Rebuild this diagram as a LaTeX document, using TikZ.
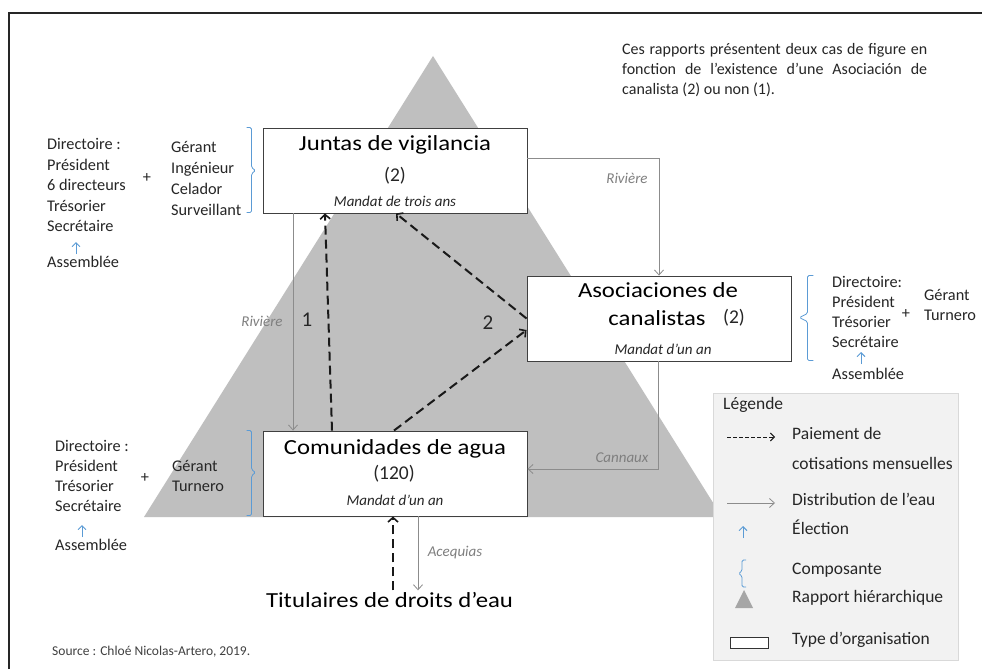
\documentclass[tikz,border=0pt]{standalone}
\usepackage{fontspec}
\setmainfont{Carlito}
\newfontfamily\titlefam[FakeStretch=1.15]{Carlito}
\usetikzlibrary{arrows.meta}
\definecolor{tri}{HTML}{BFBFBF}
\definecolor{legtri}{HTML}{A6A6A6}
\definecolor{bluebr}{HTML}{5B9BD5}
\definecolor{waterc}{HTML}{8C8C8C}
\definecolor{lab}{HTML}{7F7F7F}
\definecolor{legfill}{HTML}{F2F2F2}
\definecolor{legdraw}{HTML}{D9D9D9}
\definecolor{boxdraw}{HTML}{404040}
\definecolor{txt}{HTML}{262626}
\definecolor{srcc}{HTML}{404040}
\begin{document}
\begin{tikzpicture}[x=1pt,y=-1pt,
  orgbox/.style={draw=boxdraw, fill=white, line width=0.9pt, minimum width=264pt, minimum height=85pt, inner sep=0pt},
  orgtitle/.style={font=\titlefam\fontsize{21.5}{26}\selectfont, text=black, inner sep=0pt, text height=0.7em, text depth=0.2em},
  orgcount/.style={font=\fontsize{19.5}{22}\selectfont, text=txt, inner sep=0pt, text height=0.7em, text depth=0.2em},
  mandat/.style={font=\itshape\fontsize{15}{18}\selectfont, text=txt, inner sep=0pt, text height=0.7em, text depth=0.2em},
  sidetext/.style={font=\fontsize{16.3}{20.5}\selectfont, align=left, inner sep=0pt, text=txt, anchor=north west},
  sidetextb/.style={font=\fontsize{16.3}{20}\selectfont, align=left, inner sep=0pt, text=txt, anchor=north west},
  plussign/.style={font=\fontsize{16.3}{20}\selectfont, inner sep=0pt, text=txt},
  numlab/.style={font=\fontsize{21}{24}\selectfont, inner sep=0pt, text=txt, text height=0.7em, text depth=0.2em},
  flowlab/.style={font=\itshape\fontsize{15}{18}\selectfont, text=lab, inner sep=0pt, text height=0.7em, text depth=0.2em},
  water/.style={draw=waterc, line width=0.8pt, -{Straight Barb[length=5pt,width=9pt]}},
  pay/.style={draw=black!90, line width=2pt, dash pattern=on 9pt off 5pt, -{Straight Barb[length=4.5pt,width=10pt,line width=1.6pt]}},
  legpay/.style={draw=black!90, line width=0.9pt, dash pattern=on 3.5pt off 2.5pt, -{Straight Barb[length=4pt,width=8pt]}},
  elect/.style={draw=bluebr, line width=0.9pt, -{Straight Barb[length=4pt,width=8pt]}},
  bluebrace/.style={draw=bluebr, line width=0.8pt, rounded corners=1.5pt},
  legtext/.style={font=\fontsize{17.5}{20}\selectfont, text=txt, anchor=west, inner sep=0pt, text height=0.7em, text depth=0.2em},
  legbox/.style={draw=legdraw, fill=legfill, line width=0.8pt, minimum width=245pt, minimum height=267pt, inner sep=0pt},
  srctext/.style={font=\fontsize{13.5}{16}\selectfont, text=srcc, anchor=west, inner sep=0pt, text height=0.7em, text depth=0.2em}
]
\useasboundingbox (0,0) rectangle (982,669);
\fill[white] (0,0) rectangle (982,669);
% frame
\draw[line width=1.5pt, black!85] (9,669) -- (9,13) -- (982,13);

% hierarchy triangle
\fill[tri] (433,56) -- (722,517) -- (144,517) -- cycle;

% note
\node[anchor=north west, text width=305pt, align=justify, inner sep=0pt, font=\fontsize{16}{20}\selectfont, text=txt] (note) at (622,43.5)
  {Ces rapports présentent deux cas de figure en\linebreak fonction de l’existence d’une Asociación de\linebreak canalista (2) ou non (1).};

% organisation boxes
\node[orgbox] (jv) at (395,170.5) {};
\node[orgbox] (ac) at (659,318.5) {};
\node[orgbox] (cm) at (395,473.5) {};

\node[orgtitle] (jvT) at (395,148) {Juntas de vigilancia};
\node[orgcount] (jvN) at (395,179) {(2)};
\node[mandat] (jvM) at (395,204) {Mandat de trois ans};

\node[orgtitle] (acT1) at (658,295) {Asociaciones de};
\node[orgtitle] (acT2) at (657,323) {canalistas};
\node[orgcount] (acN) at (734,321) {(2)};
\node[mandat] (acM) at (663,352) {Mandat d’un an};

\node[orgtitle] (cmT) at (395,452) {Comunidades de agua};
\node[orgcount] (cmN) at (394,477) {(120)};
\node[mandat] (cmM) at (395,503) {Mandat d’un an};

\node[orgtitle] (tit) at (389.5,605) {Titulaires de droits d’eau};

% water distribution
\draw[water] ([yshift=12.5pt]jv.east) -| (ac.north);
\draw[water] ([xshift=-102pt]jv.south) -- ([xshift=-102pt]cm.north);
\draw[water] ([xshift=-1pt]ac.south) |- ([yshift=4.5pt]cm.east);
\draw[water] ([xshift=23pt]cm.south) -- ([xshift=28.5pt,yshift=10pt]tit.north);

\node[flowlab] (riv1) at (627,181) {Rivière};
\node[flowlab] (riv2) at (262,324) {Rivière};
\node[flowlab] (can) at (622,460) {Cannaux};
\node[flowlab] (acq) at (455,554) {Acequias};

% payments
\draw[pay] ([xshift=3.5pt,yshift=10pt]tit.north) -- ([xshift=-2pt]cm.south);
\draw[pay] ([xshift=-63pt]cm.north) -- ([xshift=-70pt]jv.south);
\draw[pay] (ac.west) -- ([xshift=1pt]jv.south);
\draw[pay] ([xshift=-1pt]cm.north) -- ([yshift=-11.5pt]ac.west);

\node[numlab] (n1) at (307,324) {1};
\node[numlab] (n2) at (488,327) {2};

% components: Juntas
\draw[bluebrace, shift={(jv.north west)}] (-16,0) -- (-11,0) -- (-11,40) -- (-7,43) -- (-11,46) -- (-11,85) -- (-16,85);
\node[sidetext] (dirA) at (47,138.5) {Directoire :\\Président\\6 directeurs\\Trésorier\\Secrétaire};
\node[sidetext] (asmA) at (47,256) {Assemblée};
\node[plussign] (plusA) at (147,178) {+};
\node[sidetext, font=\fontsize{16.3}{21}\selectfont] (gerA) at (171,141) {Gérant\\Ingénieur\\Celador\\Surveillant};
\coordinate (eA1) at (76,254);
\coordinate (eA2) at (76,242);
\draw[elect] (eA1) -- (eA2);

% components: Comunidades
\draw[bluebrace, shift={(cm.north west)}] (-16,0) -- (-11,0) -- (-11,39) -- (-7,42) -- (-11,45) -- (-11,85) -- (-16,85);
\node[sidetextb] (dirC) at (55,440.5) {Directoire :\\Président\\Trésorier\\Secrétaire};
\node[sidetextb] (asmC) at (55,539) {Assemblée};
\node[plussign] (plusC) at (145,478) {+};
\node[sidetextb] (gerC) at (172,460.5) {Gérant\\Turnero};
\coordinate (eC1) at (82,537);
\coordinate (eC2) at (82,525);
\draw[elect] (eC1) -- (eC2);

% components: Asociaciones
\draw[bluebrace, shift={(ac.north east)}] (22,0) -- (16,0) -- (16,38) -- (8,42) -- (16,46) -- (16,85) -- (22,85);
\node[sidetextb] (dirB) at (832,276.5) {Directoire:\\Président\\Trésorier\\Secrétaire};
\node[sidetextb] (asmB) at (832,368) {Assemblée};
\node[plussign] (plusB) at (906,314) {+};
\node[sidetextb] (gerB) at (924,289.5) {Gérant\\Turnero};
\coordinate (eB1) at (861,364);
\coordinate (eB2) at (861,352);
\draw[elect] (eB1) -- (eB2);

% legend
\node[legbox] (leg) at (835.5,526.5) {};
\node[legtext] (legT) at (723,407) {Légende};
\coordinate (lp1) at (727,437);
\coordinate (lp2) at (775,437);
\draw[legpay] (lp1) -- (lp2);
\node[legtext] (legP1) at (792,437) {Paiement de};
\node[legtext] (legP2) at (792,467) {cotisations mensuelles};
\coordinate (lw1) at (727,503);
\coordinate (lw2) at (775,503);
\draw[water] (lw1) -- (lw2);
\node[legtext] (legD) at (792,503) {Distribution de l’eau};
\coordinate (le1) at (743,538);
\coordinate (le2) at (743,526);
\draw[elect] (le1) -- (le2);
\node[legtext] (legE) at (792,532) {Élection};
\draw[bluebrace] (746,560) -- (742,560) -- (742,571) -- (738.5,573.5) -- (742,576) -- (742,587) -- (746,587);
\node[legtext] (legC) at (792,572) {Composante};
\fill[legtri] (735,608) -- (753,608) -- (744,590) -- cycle;
\node[legtext] (legR) at (792,600) {Rapport hiérarchique};
\draw[black!80, fill=white, line width=0.8pt] (730,637) rectangle (768,648);
\node[legtext] (legO) at (792,642) {Type d’organisation};

% source
\node[srctext] (src) at (52,653) {Source : Chloé Nicolas-Artero, 2019.};
\end{tikzpicture}
\end{document}
